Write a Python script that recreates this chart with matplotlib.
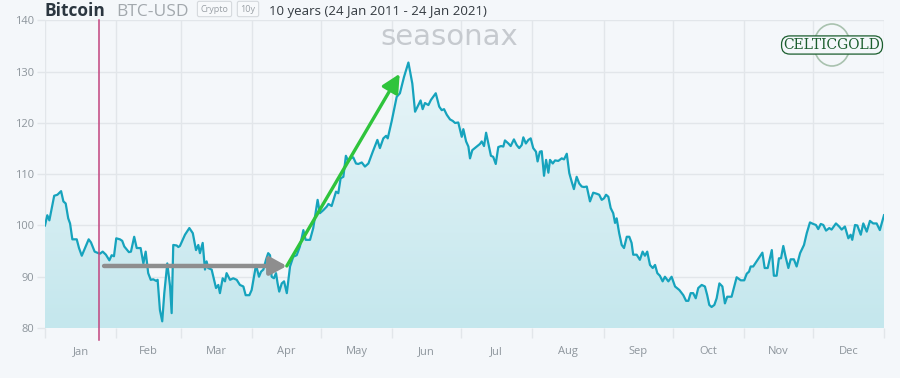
import numpy as np
import matplotlib
matplotlib.use("Agg")
import matplotlib.pyplot as plt
from matplotlib.colors import LinearSegmentedColormap
from matplotlib.patches import FancyBboxPatch, Ellipse
import matplotlib.transforms as mtransforms

plt.rcParams['font.family'] = ['Open Sans', 'DejaVu Sans']

# Seasonal pattern of BTC-USD, day of year vs. index
days = [
    0, 1.0, 1.9, 2.5, 4.0, 5.4, 7.0, 8.0, 9.0, 10.1, 10.9, 11.9, 13.8, 14.8, 16.0, 19.0, 20.0, 21.6,
    23.2, 23.9, 25.1, 26.5, 28.0, 29.0, 30.0, 31.0, 32.6, 33.6, 34.5, 36.5, 37.4, 38.8, 39.9, 41.6,
    42.8, 43.8, 44.9, 46.0, 47.1, 48.3, 49.0, 50.0, 51.0, 51.9, 53.2, 54.4, 55.1, 55.8, 57.3, 58.0,
    58.7, 60.9, 62.8, 64.3, 65.7, 66.7, 67.4, 68.6, 69.6, 70.3, 71.0, 72.5, 74.4, 75.4, 76.1, 77.3,
    78.3, 79.0, 80.5, 81.9, 83.4, 84.8, 86.3, 87.3, 88.9, 89.9, 91.8, 93.1, 94.0, 95.0, 96.2, 97.1,
    97.9, 98.6, 99.6, 100.5, 101.2, 101.9, 103.0, 104.0, 105.2, 106.6, 108.0, 109.5, 110.9,
    112.4, 113.4, 115.3, 116.7, 118.6, 119.6, 121.1, 122.6, 123.3, 124.7, 126.6, 127.6, 128.6, 129.8,
    130.9, 132.0, 133.0, 134.1, 135.3, 136.3, 137.8, 139.2, 140.7, 142.6, 144.6, 145.7, 147.2, 148.4,
    149.1, 150.8, 153.0, 154.4, 156.2, 158.1, 159.8, 161.0, 162.4, 163.4, 164.3, 165.3, 166.8, 167.9,
    170.0, 171.5, 172.6, 173.6, 174.8, 176.2,
    177.4, 178.4, 179.8, 181.3, 182.0, 183.2, 184.2, 184.9, 185.9, 187.8, 189.2, 190.0, 191.0, 191.9,
    192.9, 194.0, 195.0, 196.1, 197.2, 198.4, 199.4, 200.1, 201.6, 202.6, 204.0, 205.2, 206.3, 207.4,
    208.1, 209.2, 210.3, 211.3, 212.4, 213.6, 214.3, 215.3, 216.1, 217.1, 218.0, 219.0, 219.7, 220.9,
    221.9, 223.3, 224.8, 225.8, 227.0, 228.1, 229.1, 230.1, 231.3, 232.4, 233.5, 234.5, 235.7, 237.1,
    238.5, 240.0, 241.1, 242.2, 243.2, 244.1, 245.1, 246.1, 247.2, 248.0, 248.7, 249.8, 250.9, 251.9,
    253.1, 254.2, 255.2, 255.9, 257.4, 258.8, 260.0, 261.0, 262.0, 263.2, 264.4, 265.4, 266.4, 267.5,
    268.7, 269.7, 271.2, 272.6, 274.1, 276.0, 277.7, 278.9, 279.9, 280.9, 282.0, 283.1, 284.2, 285.7,
    287.1, 288.1, 289.0, 290.0, 291.2, 292.2, 293.4, 294.7, 295.8, 296.8, 298.0,
    298.7, 300.9, 302.7, 304.2, 305.3, 306.3, 307.0, 308.1, 309.6, 312.1, 313.1, 314.4, 316.2, 317.1,
    318.3, 319.3, 320.2, 321.2, 322.2, 323.4, 324.4, 325.8, 327.0, 328.5, 330.2, 331.4, 332.8, 334.2,
    335.4, 336.4, 337.5, 338.6, 339.8, 341.2, 342.2, 344.1, 345.5, 346.6, 348.0, 349.5, 350.5, 351.2,
    352.4, 353.4, 354.9, 356.0, 357.5, 358.9, 360.3, 361.8, 363.2, 365.0,
]
values = [
    100, 102, 101, 102.4, 105.8, 106, 106.7, 104.7, 104.3, 101.4, 100.4, 97.3, 97.3, 95.6, 94.1, 97.3, 96.7, 94.9,
    94.6, 94.5, 94.9, 94.3, 93.2, 94.2, 94.0, 97.5, 97.3, 97.0, 95.9, 94.8, 94.9, 97.8, 95.6, 95.6,
    92.6, 94.9, 90.7, 89.4, 89.5, 89.2, 89.4, 83.5, 81.3, 86.8, 92.6, 88.2, 82.9, 96.2, 96.1, 95.8,
    96.0, 98.2, 99.5, 98.5, 95.2, 96.2, 94.6, 96.6, 91.4, 93.0, 91.7, 91.4, 87.8, 88.4, 86.8, 89.7,
    89.1, 90.7, 89.4, 89.7, 89.4, 88.4, 88.1, 86.4, 86.4, 87.4, 92.3, 90.0, 91.0, 91.4, 93.4, 94.6,
    94.2, 90.0, 89.7, 90.7, 88.7, 87.1, 88.7, 89.1, 86.8, 92.0, 93.9, 94.2, 95.9,
    99.1, 97.2, 97.2, 99.5, 105.0, 102.4, 103.0, 103.7, 104.2, 103.8, 106.6, 106.3, 109.2, 109.5,
    113.6, 112.5, 113.1, 113.3, 112.1, 112.0, 112.3, 111.5, 112.1, 114.4, 116.7, 115.1, 117.0, 117.5,
    117.0, 120.3, 125.1, 125.8, 129.0, 131.8, 127.7, 122.2, 123.5, 124.4, 122.7, 123.9, 123.5, 124.5,
    125.8, 123.2, 122.5, 122.7, 121.6, 120.7,
    120.4, 120.0, 120.1, 117.3, 118.8, 116.4, 115.4, 113.1, 114.7, 115.4, 115.9, 116.4, 115.5, 118.1,
    116.0, 113.6, 113.4, 112.0, 115.3, 115.5, 115.4, 116.6, 116.0, 115.5, 116.8, 115.7, 115.1, 115.7,
    117.2, 116.0, 116.7, 117.0, 115.1, 114.4, 112.5, 114.4, 114.5, 109.7, 112.8, 110.3, 112.8, 112.1,
    112.7, 112.6, 113.1, 112.9, 114.0, 110.2, 108.6, 107.1, 109.5, 108.2, 107.6, 107.5, 107.6, 104.7,
    106.4, 106.2, 106.0, 105.0, 105.3, 106.0, 105.6, 103.4, 102.4, 100.5, 101.4, 98.5, 96.2, 95.6,
    97.8, 97.8, 96.6, 94.3, 94.3, 93.3, 94.9, 94.1, 94.9, 92.3, 91.7, 92.3, 90.7, 90.2,
    89.1, 90.0, 89.1, 90.0, 88.1, 87.4, 86.4, 85.3, 85.3, 86.8, 86.8, 85.8, 87.8, 88.4,
    88.1, 86.4, 84.5, 84.1, 84.5, 85.8, 88.7, 88.1, 84.8, 86.1, 86.1,
    86.1, 89.9, 89.3, 89.3, 90.6, 91.0, 92.0, 92.0, 93.0, 94.7, 91.7, 91.7, 95.2, 90.2,
    90.2, 93.6, 93.6, 96.0, 93.9, 91.7, 93.4, 93.4, 92.0, 94.6, 96.2, 98.5, 100.6, 100.3,
    100.1, 99.3, 100.3, 100.1, 99.0, 99.5, 99.2, 100.4, 99.8, 99.2, 99.8, 97.5, 98.2, 97.2,
    100.1, 100.0, 98.2, 100.4, 98.8, 100.9, 100.4, 100.4, 99.1, 102.0,
]

month_starts = [0, 31, 59, 90, 120, 151, 181, 212, 243, 273, 304, 334, 365]
month_labels = ["Jan", "Feb", "Mar", "Apr", "May", "Jun", "Jul", "Aug", "Sep", "Oct", "Nov", "Dec"]
y_ticks = [80, 90, 100, 110, 120, 130, 140]

today_day = 23.7          # 24 Jan marker
flat_start, flat_end, flat_level = 25.7, 105.2, 92.1
rise_end, rise_level = 154.3, 129.6

bg = "#f4f7fa"
grid_c = "#e2e6ea"
line_c = "#16a3bd"

fig = plt.figure(figsize=(9, 3.78), dpi=100, facecolor=bg)
ax = fig.add_axes([0.05, 0.1323, 0.9322, 0.8135], facecolor=bg)

# gradient fill under the curve
poly = ax.fill_between(days, values, 80, facecolor="none", edgecolor="none")
cmap = LinearSegmentedColormap.from_list("fillc", ["#c4e7ed", "#eef7fa"])
grad = np.linspace(0, 1, 256).reshape(-1, 1)
im = ax.imshow(grad, extent=[0, 365, 80, 140], origin="lower", aspect="auto",
               cmap=cmap, zorder=1)
im.set_clip_path(poly.get_paths()[0], transform=ax.transData)

ax.plot(days, values, color=line_c, lw=1.6, zorder=3)

ax.set_xlim(0, 365)
ax.set_ylim(80, 140)
ax.set_xticks(month_starts)
ax.set_xticklabels([])
mids = [(month_starts[i] + month_starts[i + 1]) / 2 for i in range(12)]
ax.set_xticks(mids, minor=True)
ax.set_xticklabels(month_labels, minor=True)
ax.set_yticks(y_ticks)
ax.tick_params(axis="x", which="major", length=7, width=1, color=grid_c)
ax.tick_params(axis="x", which="minor", length=0, pad=13, labelsize=8, labelcolor="#8d959c")
ax.tick_params(axis="y", length=6, width=1, color=grid_c, pad=1.5, labelsize=8, labelcolor="#8d959c")
ax.grid(True, color=grid_c, lw=1, zorder=0)
ax.set_axisbelow(True)
for s in ax.spines.values():
    s.set_visible(False)

# red vertical marker (extends a bit below the plot)
trans = mtransforms.blended_transform_factory(ax.transData, ax.transAxes)
ax.plot([today_day, today_day], [-0.04, 1.0], transform=trans, color="#c2437f",
        lw=1.1, clip_on=False, zorder=4)

# annotation arrows
ax.annotate("", xy=(flat_end, flat_level), xytext=(flat_start, flat_level),
            arrowprops=dict(arrowstyle="-|>,head_length=1.0,head_width=0.55",
                            color="#8e8e8e", lw=3.2, mutation_scale=10,
                            shrinkA=0, shrinkB=0), zorder=5)
ax.annotate("", xy=(rise_end, rise_level), xytext=(flat_end, flat_level),
            arrowprops=dict(arrowstyle="-|>,head_length=1.1,head_width=0.55",
                            color="#2fc43c", lw=2.4, mutation_scale=10,
                            shrinkA=0, shrinkB=0), zorder=6)

# watermark
fig.text(449 / 900, 1 - 37 / 378, "seasonax", ha="center", va="center",
         fontsize=21, color="#c6cacf", family="DejaVu Sans")

# Celtic Gold logo
fig.patches.append(Ellipse((832 / 900, 1 - 45 / 378), 36 / 900, 42 / 378,
                           transform=fig.transFigure, fill=False,
                           edgecolor="#a9c2af", lw=1.2))
fig.text(832 / 900, 1 - 45 / 378, "CELTICGOLD", ha="center", va="center",
         fontsize=10, color="#1b5e2e", family="DejaVu Serif",
         bbox=dict(boxstyle="round,pad=0.15,rounding_size=0.6",
                   facecolor=bg, edgecolor="#1b5e2e", lw=0.9))

# header
fig.text(45 / 900, 1 - 15.5 / 378, "Bitcoin", fontsize=12.5, fontweight="bold",
         color="#2b3640", va="baseline")
fig.text(116 / 900, 1 - 15.5 / 378, "BTC-USD", fontsize=12.5, color="#a2a8ad",
         va="baseline")
for label, x0 in [("Crypto", 214.5), ("10y", 248)]:
    fig.text(x0 / 900, 1 - 9 / 378, label, fontsize=6.5, color="#9aa0a6",
             ha="center", va="center",
             bbox=dict(boxstyle="round,pad=0.35,rounding_size=0.2",
                       facecolor="#f7f9fb", edgecolor="#d5d9dd", lw=0.8))
fig.text(269 / 900, 1 - 15 / 378, "10 years (24 Jan 2011 - 24 Jan 2021)",
         fontsize=9.5, color="#333a40", va="baseline")

fig.savefig("out.png", dpi=100, facecolor=bg)
